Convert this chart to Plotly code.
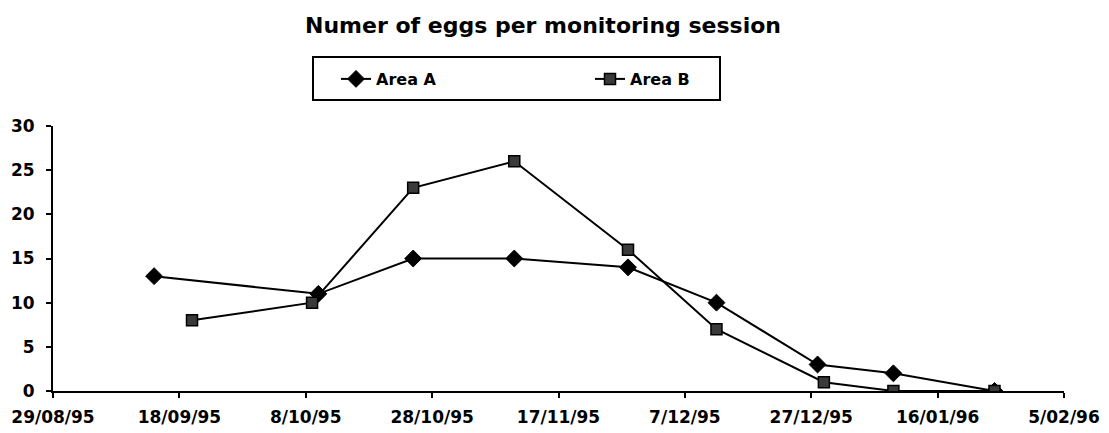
import plotly.graph_objects as go

# Data
dates_a = ["1995-09-14", "1995-10-10", "1995-10-25", "1995-11-10", "1995-11-28",
           "1995-12-12", "1995-12-28", "1996-01-09", "1996-01-25"]
eggs_a = [13, 11, 15, 15, 14, 10, 3, 2, 0]

dates_b = ["1995-09-20", "1995-10-09", "1995-10-25", "1995-11-10", "1995-11-28",
           "1995-12-12", "1995-12-29", "1996-01-09", "1996-01-25"]
eggs_b = [8, 10, 23, 26, 16, 7, 1, 0, 0]

tick_vals = ["1995-08-29", "1995-09-18", "1995-10-08", "1995-10-28", "1995-11-17",
             "1995-12-07", "1995-12-27", "1996-01-16", "1996-02-05"]
tick_text = ["29/08/95", "18/09/95", "8/10/95", "28/10/95", "17/11/95",
             "7/12/95", "27/12/95", "16/01/96", "5/02/96"]
y_ticks = [0, 5, 10, 15, 20, 25, 30]

FONT = "DejaVu Sans"

fig = go.Figure()
fig.add_trace(go.Scatter(
    x=dates_a, y=eggs_a, name="Area A", mode="lines+markers",
    line=dict(color="black", width=2),
    marker=dict(symbol="diamond", size=13, color="black", line=dict(color="black", width=1)),
))
fig.add_trace(go.Scatter(
    x=dates_b, y=eggs_b, name="Area B", mode="lines+markers",
    line=dict(color="black", width=2),
    marker=dict(symbol="square", size=11, color="#3a3a3a", line=dict(color="black", width=1.5)),
))

# page has an 8px body margin; figure coordinates = page coordinates - 8
W, H = 1101, 425
L, T = 45, 118
pw, ph = 1011, 265
R, B = W - L - pw, H - T - ph
OFF = 8

def px_x(page_x):
    return (page_x - OFF - L) / pw

def px_y(page_y):
    return (H - B - (page_y - OFF)) / ph

fig.update_layout(
    width=W, height=H,
    margin=dict(l=L, r=R, t=T, b=B, autoexpand=False),
    paper_bgcolor="white", plot_bgcolor="white",
    font=dict(family=FONT, color="black"),
    title=dict(
        text="<b>Numer of eggs per monitoring session</b>",
        font=dict(family=FONT, size=22, color="black"),
        xref="container", x=(543 - OFF) / W, xanchor="center",
        yref="container", y=1 - (25 - OFF) / H, yanchor="middle",
    ),
    showlegend=True,
    legend=dict(
        orientation="h",
        x=px_x(336), xanchor="left",
        y=px_y(79), yanchor="middle",
        font=dict(family=FONT, size=16, color="black", weight="bold"),
        bgcolor="rgba(0,0,0,0)", borderwidth=0,
        entrywidth=209, entrywidthmode="pixels",
    ),
    shapes=[dict(
        type="rect", xref="paper", yref="paper",
        x0=px_x(313), x1=px_x(720),
        y0=px_y(100), y1=px_y(57),
        line=dict(color="black", width=2), fillcolor="rgba(0,0,0,0)",
    )],
    xaxis=dict(
        type="date",
        range=[tick_vals[0], tick_vals[-1]],
        tickmode="array", tickvals=tick_vals, ticktext=tick_text,
        showgrid=False, zeroline=False,
        showline=True, linecolor="black", linewidth=2,
        ticks="outside", ticklen=5, tickwidth=1.5, tickcolor="black",
        tickfont=dict(family=FONT, size=17, color="black", weight="bold"),
        ticklabelstandoff=5,
        automargin=False,
    ),
    yaxis=dict(
        range=[0, 30],
        tickmode="array", tickvals=y_ticks,
        showgrid=False, zeroline=False,
        showline=True, linecolor="black", linewidth=2,
        ticks="outside", ticklen=5, tickwidth=1.5, tickcolor="black",
        tickfont=dict(family=FONT, size=17, color="black", weight="bold"),
        ticklabelstandoff=8,
        automargin=False,
    ),
)

fig.write_html("out.html")
